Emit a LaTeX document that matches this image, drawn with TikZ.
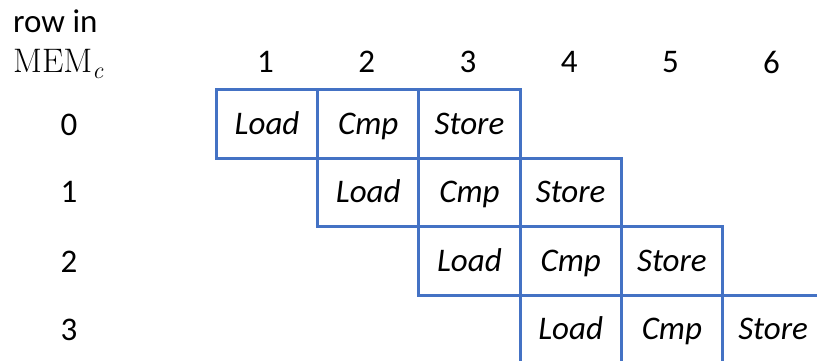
\documentclass[tikz,border=0pt]{standalone}
\usepackage{fontspec}
\newfontfamily\calib{Carlito}
\definecolor{cellblue}{HTML}{4472C4}
\begin{document}
\begin{tikzpicture}[x=1pt,y=1pt,
  cell/.style={draw=cellblue, line width=3pt, minimum width=101.2pt,
    minimum height=68.5pt, inner sep=0pt, anchor=north west,
    text height=27pt, text depth=6pt,
    font=\calib\fontsize{33}{36}\selectfont\itshape},
  lbl/.style={inner sep=0pt, font=\calib\fontsize{33}{36}\selectfont}]
\clip (0,0) rectangle (817,-360);

% axis captions
\node[lbl, anchor=base west] (rowin) at (13,-32) {row in};
\node[inner sep=0pt, anchor=base west, font=\rmfamily\fontsize{34}{36}\selectfont]
  (mem) at (13,-72) {MEM{\fontsize{24}{26}\selectfont\raisebox{-6pt}{\itshape c}}};

% step numbers
\foreach \i in {1,...,6}
  \node[lbl] (col\i) at ({215+101.2*(\i-0.5)},-62) {\i};

% row numbers
\foreach \r/\y in {0/125,1/192,2/262,3/330}
  \node[lbl] (row\r) at (69,-\y) {\r};

% pipelined Load / Cmp / Store stages, one row per memory row
\foreach \r in {0,...,3}{
  \node[cell] (load\r)  at ({215+101.2*\r},{-88-68.5*\r}) {Load};
  \node[cell] (cmp\r)   at ({316.2+101.2*\r},{-88-68.5*\r}) {Cmp};
  \node[cell] (store\r) at ({417.4+101.2*\r},{-88-68.5*\r}) {Store};
}
\end{tikzpicture}
\end{document}
